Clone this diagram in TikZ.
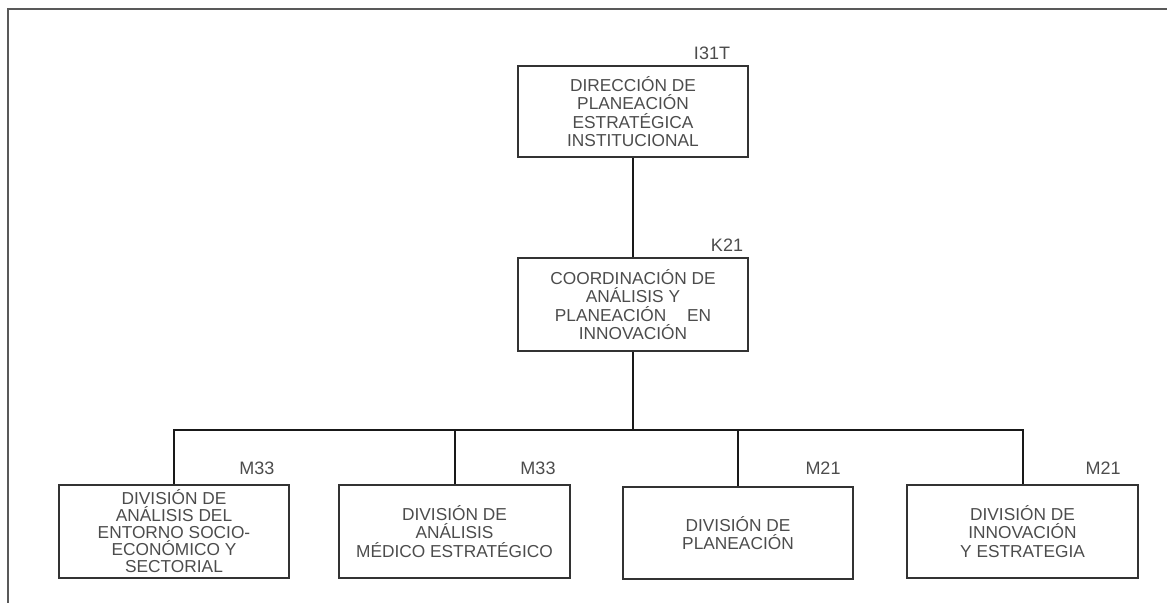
\documentclass[tikz,border=0pt]{standalone}
\usepackage{fontspec}
\setmainfont{Liberation Sans}
\begin{document}
\begin{tikzpicture}[x=1pt,y=-1pt,
  unit/.style={draw=black!80, line width=1.6pt, minimum width=230pt, minimum height=92pt, inner sep=0pt, align=center, font=\fontsize{17.3}{18.5}\selectfont, text=black!70},
  lbl/.style={font=\fontsize{18}{19}\selectfont, text=black!70, inner sep=0pt},
  conn/.style={draw=black!90, line width=2pt},
  frame/.style={draw=black!65, line width=2.6pt}
]
\useasboundingbox (0,0) rectangle (1167,603);
\coordinate (fTL) at (8,9);
\coordinate (fTR) at (1167,9);
\coordinate (fBL) at (8,603);
\draw[frame] (fTR) -- (fTL) -- (fBL);

\node[unit, minimum height=91pt] (dir) at (633,111.5) {DIRECCIÓN DE\\PLANEACIÓN\\ESTRATÉGICA\\INSTITUCIONAL};
\node[unit, minimum height=93pt] (coord) at (633,304.5) {COORDINACIÓN DE\\ANÁLISIS Y\\PLANEACIÓN\hspace{1.2em}EN\\INNOVACIÓN};
\node[unit, minimum height=93pt, font=\fontsize{17.3}{17}\selectfont] (d1) at (174,531.5) {DIVISIÓN DE\\ANÁLISIS DEL\\ENTORNO SOCIO-\\ECONÓMICO Y\\SECTORIAL};
\node[unit, minimum height=93pt, minimum width=231pt] (d2) at (454.5,531.5) {\raisebox{-4pt}{\parbox{225pt}{\centering DIVISIÓN DE\\ANÁLISIS\\MÉDICO ESTRATÉGICO}}};
\node[unit] (d3) at (738,533) {DIVISIÓN DE\\PLANEACIÓN};
\node[unit, minimum height=93pt, minimum width=231pt] (d4) at (1022.5,531.5) {DIVISIÓN DE\\INNOVACIÓN\\Y ESTRATEGIA};

\node[lbl] (ldir) at (712,53) {I31T};
\node[lbl] (lcoord) at (727,245) {K21};
\node[lbl] (ld1) at (257,468) {M33};
\node[lbl] (ld2) at (538,468) {M33};
\node[lbl] (ld3) at (823,468) {M21};
\node[lbl] (ld4) at (1103,468) {M21};

\coordinate (bus) at (633,430);
\draw[conn] (dir.south) -- (coord.north);
\draw[conn] (coord.south) -- (bus);
\draw[conn] (d1.north) -- (d1.north |- bus) -- (d4.north |- bus) -- (d4.north);
\draw[conn] (d2.north) -- (d2.north |- bus);
\draw[conn] (d3.north) -- (d3.north |- bus);
\end{tikzpicture}
\end{document}
